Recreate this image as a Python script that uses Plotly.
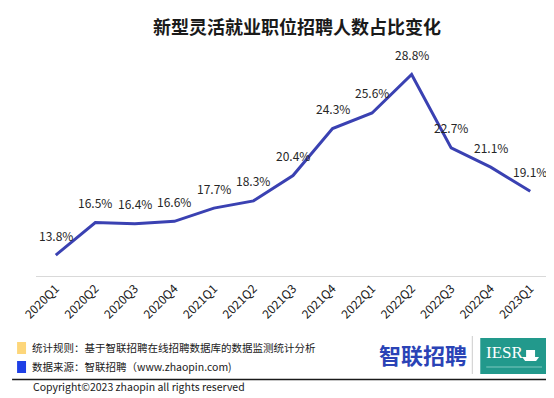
import plotly.graph_objects as go

categories = ["2020Q1", "2020Q2", "2020Q3", "2020Q4", "2021Q1", "2021Q2", "2021Q3",
              "2021Q4", "2022Q1", "2022Q2", "2022Q3", "2022Q4", "2023Q1"]
values = [13.8, 16.5, 16.4, 16.6, 17.7, 18.3, 20.4, 24.3, 25.6, 28.8, 22.7, 21.1, 19.1]
labels = [f"{v:.1f}%" for v in values]

title_text = "新型灵活就业职位招聘人数占比变化"
note_rule = "统计规则：基于智联招聘在线招聘数据库的数据监测统计分析"
note_source = "数据来源：智联招聘（www.zhaopin.com)"
copyright_text = "Copyright©2023 zhaopin all rights reserved"
logo_text = "智联招聘"
iesr_text = "IESR"

W, H = 554, 398
L, R, T, B = 26, 12, 52, 130
PW, PH = W - L - R, H - T - B


def px(x):
    return (x - L) / PW


def py(y):
    return (H - B - y) / PH


CJK = "Noto Sans CJK SC, Noto Sans, sans-serif"

fig = go.Figure()
fig.add_trace(go.Scatter(
    x=categories, y=values, mode="lines",
    line=dict(color="#3a41b2", width=3),
    hoverinfo="skip", showlegend=False,
))

annotations = []
for c, v, t in zip(categories, values, labels):
    annotations.append(dict(x=c, y=v, text=t, showarrow=False, yshift=20,
                            font=dict(family=CJK, size=12, color="#262626")))

# title
annotations.append(dict(x=px(288), y=py(18), xref="paper", yref="paper", text=f"<b>{title_text}</b>",
                        showarrow=False, xanchor="center", yanchor="middle",
                        font=dict(family=CJK, size=18, color="#1a1a1a")))
# footer notes
annotations.append(dict(x=px(20), y=py(339), xref="paper", yref="paper", text=note_rule,
                        showarrow=False, xanchor="left", yanchor="middle",
                        font=dict(family=CJK, size=10.5, color="#1a1a1a")))
annotations.append(dict(x=px(20), y=py(358), xref="paper", yref="paper", text=note_source,
                        showarrow=False, xanchor="left", yanchor="middle",
                        font=dict(family=CJK, size=10.5, color="#1a1a1a")))
annotations.append(dict(x=px(21), y=py(378), xref="paper", yref="paper", text=copyright_text,
                        showarrow=False, xanchor="left", yanchor="middle",
                        font=dict(family=CJK, size=10.5, color="#1a1a1a")))
# logos
annotations.append(dict(x=px(415), y=py(346), xref="paper", yref="paper", text=f"<b>{logo_text}</b>",
                        showarrow=False, xanchor="center", yanchor="middle",
                        font=dict(family=CJK, size=22, color="#2a43b6")))
annotations.append(dict(x=px(497), y=py(344), xref="paper", yref="paper", text=iesr_text,
                        showarrow=False, xanchor="center", yanchor="middle",
                        font=dict(family="Liberation Serif, DejaVu Serif, serif", size=17, color="#ffffff")))

shapes = [
    dict(type="rect", xref="paper", yref="paper", x0=px(7), x1=px(16), y0=py(334), y1=py(346),
         fillcolor="#fdd67a", line=dict(width=0)),
    dict(type="rect", xref="paper", yref="paper", x0=px(7), x1=px(16), y0=py(353), y1=py(365),
         fillcolor="#1f40e6", line=dict(width=0)),
    dict(type="line", xref="paper", yref="paper", x0=px(2), x1=px(554), y0=py(371.5), y1=py(371.5),
         line=dict(color="#1a1a1a", width=1.3)),
    dict(type="line", xref="paper", yref="paper", x0=px(464), x1=px(464), y0=py(328), y1=py(366),
         line=dict(color="#cccccc", width=1)),
    dict(type="rect", xref="paper", yref="paper", x0=px(472), x1=px(540), y0=py(330), y1=py(366),
         fillcolor="#22998c", line=dict(width=0)),
    # small boat icon
    dict(type="path", xref="paper", yref="paper",
         path=f"M {px(514)},{py(349)} L {px(531)},{py(349)} L {px(528)},{py(353)} L {px(517)},{py(353)} Z",
         fillcolor="#ffffff", line=dict(width=0)),
    dict(type="rect", xref="paper", yref="paper", x0=px(518), x1=px(527), y0=py(342), y1=py(349),
         fillcolor="#ffffff", line=dict(width=0)),
    dict(type="line", xref="paper", yref="paper", x0=px(478), x1=px(534), y0=py(359), y1=py(359),
         line=dict(color="#7cc8bf", width=1)),
]

fig.update_layout(
    width=W, height=H,
    margin=dict(l=L, r=R, t=T, b=B, pad=0),
    paper_bgcolor="white", plot_bgcolor="white",
    annotations=annotations, shapes=shapes,
    xaxis=dict(type="category", range=[-0.5, len(categories) - 0.5],
               showline=True, linecolor="#d9d9d9", linewidth=1,
               showgrid=False, zeroline=False, ticks="", tickangle=-45,
               tickfont=dict(family=CJK, size=12, color="#1a1a1a")),
    yaxis=dict(range=[12.06, 30], visible=False, showgrid=False, zeroline=False),
    showlegend=False,
)

fig.write_html("out.html")
